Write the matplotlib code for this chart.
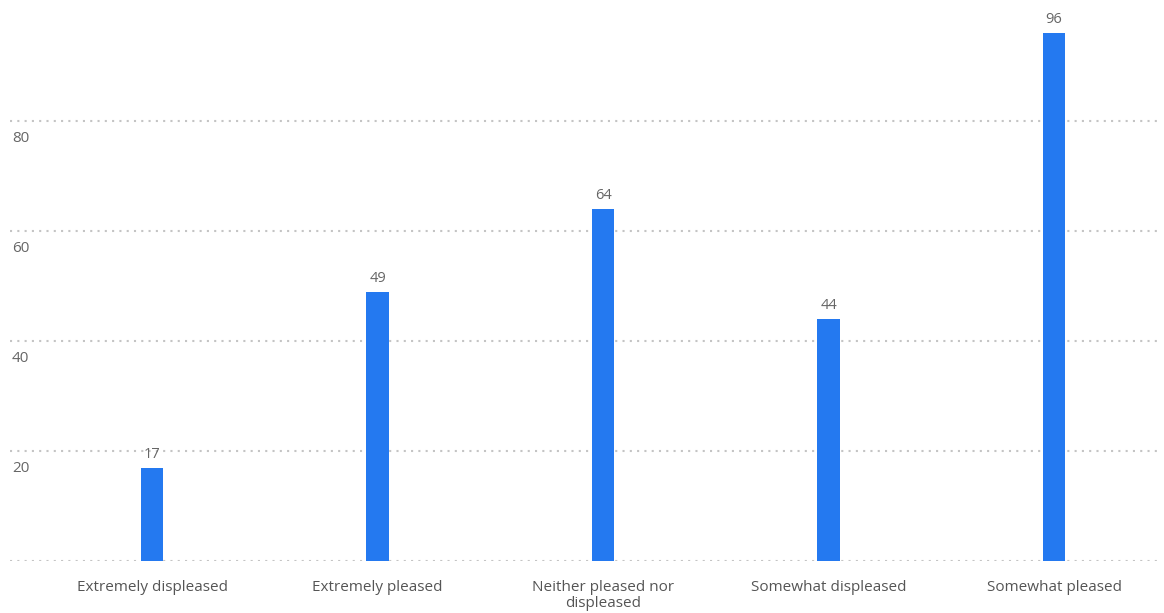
import matplotlib
matplotlib.use("Agg")
import matplotlib.pyplot as plt
import matplotlib.transforms as mtransforms

categories = ["Extremely displeased", "Extremely pleased", "Neither pleased nor\ndispleased",
              "Somewhat displeased", "Somewhat pleased"]
values = [17, 49, 64, 44, 96]
yticks = [20, 40, 60, 80]

plt.rcParams["font.family"] = ["Open Sans", "DejaVu Sans"]

fig = plt.figure(figsize=(11.64, 6.13), dpi=100)
ax = fig.add_axes([10 / 1164, 52 / 613, 1150 / 1164, 561 / 613])

x = list(range(len(categories)))
ax.bar(x, values, width=0.1, color="#2479F0", zorder=3)

for xi, v in zip(x, values):
    ax.annotate(str(v), (xi, v), xytext=(0, 4), textcoords="offset points",
                ha="center", va="bottom", fontsize=10.5, color="#666666")

# dotted grid lines incl. baseline
for g in [0] + yticks:
    ax.axhline(g, color="#c4c4c4", linestyle=(0, (1, 2.5)), linewidth=1.5, zorder=1)

# y labels sit just under their grid line at the left edge
trans = mtransforms.blended_transform_factory(ax.transAxes, ax.transData)
for t in yticks:
    ax.annotate(str(t), (0, t), xycoords=trans, xytext=(1.5, -7.5), textcoords="offset points",
                ha="left", va="top", fontsize=11, color="#666666")

for xi, c in zip(x, categories):
    ax.annotate(c, (xi, 0), xytext=(0, -14), textcoords="offset points",
                ha="center", va="top", fontsize=11, color="#555555", linespacing=1.05)

ax.set_xlim(-0.63, 4.47)
ax.set_ylim(0, 102)
ax.set_xticks([])
ax.set_yticks([])
for s in ax.spines.values():
    s.set_visible(False)

fig.savefig("out.png", dpi=100, facecolor="white")
